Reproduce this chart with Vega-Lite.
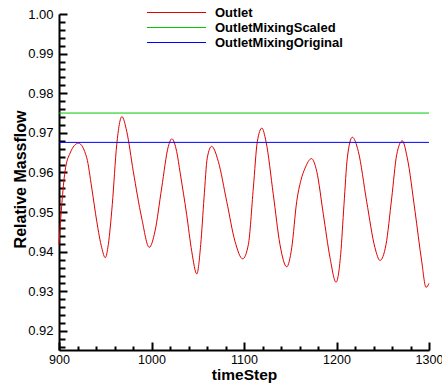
{
  "$schema": "https://vega.github.io/schema/vega-lite/v6.json",
  "width": 370,
  "height": 336,
  "autosize": {"type": "none"},
  "padding": {"left": 59, "top": 14, "right": 13, "bottom": 35},
  "background": "white",
  "config": {
    "view": {"stroke": null},
    "font": "Liberation Sans",
    "axis": {
      "grid": false,
      "domainColor": "black",
      "domainWidth": 2,
      "tickColor": "black",
      "tickWidth": 2,
      "labelColor": "black",
      "labelFont": "Liberation Sans",
      "titleColor": "black",
      "titleFont": "Liberation Sans",
      "titleFontWeight": "bold",
      "titleFontSize": 16
    }
  },
  "data": {
    "values": [
      {"series": "Outlet", "t": 900, "v": 0.9418},
      {"series": "Outlet", "t": 903, "v": 0.9519},
      {"series": "Outlet", "t": 906.5, "v": 0.9603},
      {"series": "Outlet", "t": 912, "v": 0.9649},
      {"series": "Outlet", "t": 921, "v": 0.9674},
      {"series": "Outlet", "t": 930, "v": 0.9637},
      {"series": "Outlet", "t": 935.4, "v": 0.9561},
      {"series": "Outlet", "t": 940.8, "v": 0.9477},
      {"series": "Outlet", "t": 946.2, "v": 0.941},
      {"series": "Outlet", "t": 950, "v": 0.9385},
      {"series": "Outlet", "t": 953.3, "v": 0.9418},
      {"series": "Outlet", "t": 957.6, "v": 0.9519},
      {"series": "Outlet", "t": 962.4, "v": 0.967},
      {"series": "Outlet", "t": 968, "v": 0.9741},
      {"series": "Outlet", "t": 973.2, "v": 0.9704},
      {"series": "Outlet", "t": 980.3, "v": 0.9603},
      {"series": "Outlet", "t": 989.4, "v": 0.9485},
      {"series": "Outlet", "t": 997.6, "v": 0.9411},
      {"series": "Outlet", "t": 1003.8, "v": 0.9452},
      {"series": "Outlet", "t": 1011, "v": 0.9561},
      {"series": "Outlet", "t": 1018.2, "v": 0.9666},
      {"series": "Outlet", "t": 1022, "v": 0.9685},
      {"series": "Outlet", "t": 1027.2, "v": 0.9653},
      {"series": "Outlet", "t": 1031, "v": 0.9599},
      {"series": "Outlet", "t": 1038, "v": 0.9494},
      {"series": "Outlet", "t": 1043.5, "v": 0.9401},
      {"series": "Outlet", "t": 1049, "v": 0.9344},
      {"series": "Outlet", "t": 1053.2, "v": 0.9418},
      {"series": "Outlet", "t": 1056.8, "v": 0.9536},
      {"series": "Outlet", "t": 1060.3, "v": 0.9637},
      {"series": "Outlet", "t": 1065, "v": 0.9666},
      {"series": "Outlet", "t": 1072.2, "v": 0.9628},
      {"series": "Outlet", "t": 1081.3, "v": 0.9527},
      {"series": "Outlet", "t": 1090.3, "v": 0.9426},
      {"series": "Outlet", "t": 1098.6, "v": 0.9382},
      {"series": "Outlet", "t": 1104.7, "v": 0.9418},
      {"series": "Outlet", "t": 1110.1, "v": 0.9561},
      {"series": "Outlet", "t": 1114.4, "v": 0.9678},
      {"series": "Outlet", "t": 1119.3, "v": 0.9712},
      {"series": "Outlet", "t": 1123.8, "v": 0.9678},
      {"series": "Outlet", "t": 1131.7, "v": 0.9544},
      {"series": "Outlet", "t": 1138.9, "v": 0.9418},
      {"series": "Outlet", "t": 1146.2, "v": 0.9362},
      {"series": "Outlet", "t": 1151.6, "v": 0.941},
      {"series": "Outlet", "t": 1157, "v": 0.9527},
      {"series": "Outlet", "t": 1161.5, "v": 0.958},
      {"series": "Outlet", "t": 1166, "v": 0.9611},
      {"series": "Outlet", "t": 1173, "v": 0.9635},
      {"series": "Outlet", "t": 1178.6, "v": 0.9603},
      {"series": "Outlet", "t": 1185.8, "v": 0.9494},
      {"series": "Outlet", "t": 1193, "v": 0.9385},
      {"series": "Outlet", "t": 1199.5, "v": 0.9323},
      {"series": "Outlet", "t": 1204.5, "v": 0.9393},
      {"series": "Outlet", "t": 1208.1, "v": 0.9519},
      {"series": "Outlet", "t": 1211.7, "v": 0.9637},
      {"series": "Outlet", "t": 1217.1, "v": 0.9689},
      {"series": "Outlet", "t": 1223.6, "v": 0.9653},
      {"series": "Outlet", "t": 1232.6, "v": 0.9527},
      {"series": "Outlet", "t": 1241.6, "v": 0.941},
      {"series": "Outlet", "t": 1247, "v": 0.9378},
      {"series": "Outlet", "t": 1253.5, "v": 0.9418},
      {"series": "Outlet", "t": 1259.7, "v": 0.9536},
      {"series": "Outlet", "t": 1265.1, "v": 0.9645},
      {"series": "Outlet", "t": 1271.1, "v": 0.968},
      {"series": "Outlet", "t": 1276.5, "v": 0.9637},
      {"series": "Outlet", "t": 1284.9, "v": 0.9502},
      {"series": "Outlet", "t": 1292.1, "v": 0.9376},
      {"series": "Outlet", "t": 1296.8, "v": 0.931},
      {"series": "Outlet", "t": 1300, "v": 0.932},
      {"series": "OutletMixingScaled", "t": 900, "v": 0.975},
      {"series": "OutletMixingScaled", "t": 1300, "v": 0.975},
      {"series": "OutletMixingOriginal", "t": 900, "v": 0.9676},
      {"series": "OutletMixingOriginal", "t": 1300, "v": 0.9676}
    ]
  },
  "mark": {"type": "line", "interpolate": "monotone", "strokeWidth": 1},
  "encoding": {
    "x": {
      "field": "t",
      "type": "quantitative",
      "scale": {"domain": [900, 1300], "nice": false, "zero": false},
      "axis": {
        "title": "timeStep",
        "values": [900, 920, 940, 960, 980, 1000, 1020, 1040, 1060, 1080, 1100, 1120, 1140, 1160, 1180, 1200, 1220, 1240, 1260, 1280, 1300],
        "labelExpr": "datum.value % 100 == 0 ? format(datum.value, 'd') : ''",
        "labelFontSize": 12.5,
        "labelPadding": 11,
        "labelFlush": false,
        "tickSize": {"condition": {"test": "datum.value % 100 == 0", "value": -8}, "value": -4},
        "titleFontSize": 15.5,
        "titleBaseline": "alphabetic",
        "titleX": 185,
        "titleY": 29
      }
    },
    "y": {
      "field": "v",
      "type": "quantitative",
      "scale": {"domain": [0.9152, 1.0], "nice": false, "zero": false},
      "axis": {
        "title": "Relative Massflow",
        "values": [0.916, 0.918, 0.92, 0.922, 0.924, 0.926, 0.928, 0.93, 0.932, 0.934, 0.936, 0.938, 0.94, 0.942, 0.944, 0.946, 0.948, 0.95, 0.952, 0.954, 0.956, 0.958, 0.96, 0.962, 0.964, 0.966, 0.968, 0.97, 0.972, 0.974, 0.976, 0.978, 0.98, 0.982, 0.984, 0.986, 0.988, 0.99, 0.992, 0.994, 0.996, 0.998, 1.0],
        "labelExpr": "abs(datum.value * 100 - round(datum.value * 100)) < 0.01 ? format(datum.value, '.2f') : ''",
        "labelFontSize": 13,
        "labelPadding": 14,
        "labelFlush": false,
        "tickSize": {"condition": {"test": "abs(datum.value * 100 - round(datum.value * 100)) < 0.01", "value": -8}, "value": -6},
        "titleBaseline": "alphabetic",
        "titleX": -34,
        "titleY": 165
      }
    },
    "color": {
      "field": "series",
      "type": "nominal",
      "scale": {
        "domain": ["Outlet", "OutletMixingScaled", "OutletMixingOriginal"],
        "range": ["#e00000", "#00c800", "#0000ff"]
      },
      "legend": {
        "title": null,
        "orient": "none",
        "legendX": 111,
        "legendY": -8,
        "padding": 0,
        "symbolType": "M-9.85,0H9.85",
        "symbolSize": 36,
        "symbolStrokeWidth": 1,
        "symbolOffset": 0,
        "labelOffset": 32,
        "labelFont": "Liberation Sans",
        "labelFontWeight": "bold",
        "labelFontSize": 13,
        "labelColor": "black",
        "labelLimit": 300,
        "rowPadding": 1
      }
    }
  }
}
